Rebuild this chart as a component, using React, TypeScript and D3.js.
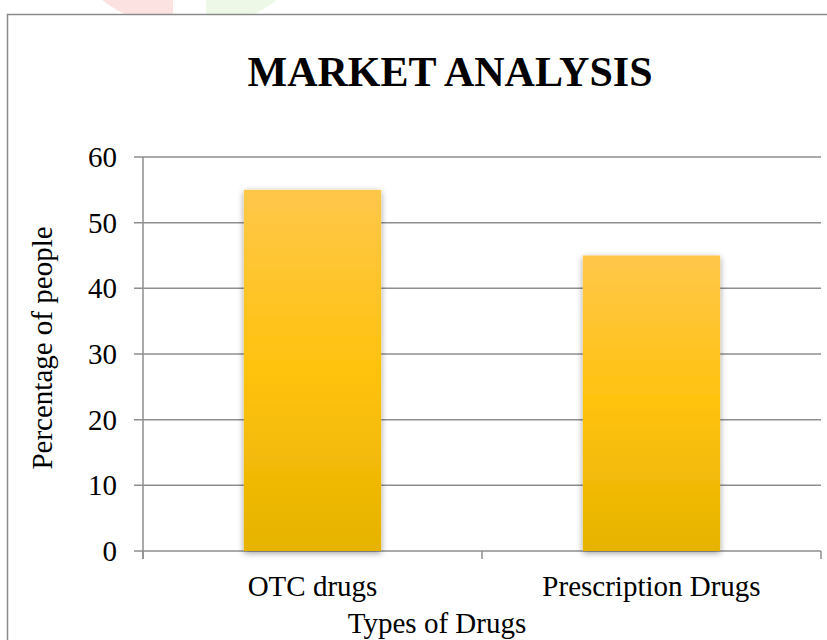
import React from 'react';
import * as d3 from 'd3';

const categories = ['OTC drugs', 'Prescription Drugs'];
const percentages = [55, 45];
const yTicks = [0, 10, 20, 30, 40, 50, 60];

const title = 'MARKET ANALYSIS';
const xTitle = 'Types of Drugs';
const yTitle = 'Percentage of people';

const W = 827;
const H = 640;
const margin = { top: 157, right: 6, bottom: 89, left: 143 };
const font = '"Liberation Serif", "Times New Roman", serif';
const gridColor = '#8e8e8e';

const App: React.FC = () => {
  const x0 = margin.left;
  const x1 = W - margin.right;
  const yBase = H - margin.bottom;

  // slots between category ticks
  const slot = d3.scaleBand<string>().domain(categories).range([x0, x1]).padding(0);
  // bars inside the slots
  const x = d3.scaleBand<string>()
    .domain(categories)
    .range([x0, x1])
    .paddingInner(0.595)
    .paddingOuter(0.2975);
  const y = d3.scaleLinear().domain([0, 60]).range([yBase, margin.top]);

  const boundaries = [...categories.map(c => slot(c) as number), x1];

  return (
    <div style={{ position: 'fixed', left: 0, top: 0 }}>
      <svg width={W} height={H} style={{ display: 'block', background: '#fff' }}>
        <defs>
          <linearGradient id="gold" x1="0" y1="0" x2="0" y2="1">
            <stop offset="0%" stopColor="#FFC74A" />
            <stop offset="50%" stopColor="#FFC20E" />
            <stop offset="100%" stopColor="#E6B300" />
          </linearGradient>
          <filter id="shadow" x="-20%" y="-10%" width="140%" height="120%">
            <feDropShadow dx="0" dy="2" stdDeviation="3" floodColor="#000" floodOpacity="0.4" />
          </filter>
          <clipPath id="topStrip">
            <rect x={0} y={0} width={W} height={14} />
          </clipPath>
        </defs>

        {/* faint watermark behind the frame */}
        <g clipPath="url(#topStrip)">
          <path d="M173,-200 A110,110 0 0 0 173,25 Z" fill="#fde2e2" />
          <path d="M206,-200 A110,110 0 0 1 206,25 Z" fill="#eef8e6" />
        </g>

        {/* chart frame */}
        <rect x={7.5} y={14.5} width={W + 40} height={H + 40} fill="none" stroke="#8a8a8a" strokeWidth={1.5} />

        <text
          x={450}
          y={86}
          textAnchor="middle"
          fontFamily={font}
          fontWeight="bold"
          fontSize={42}
          fill="#000"
        >
          {title}
        </text>

        {/* gridlines + y ticks */}
        {yTicks.map(t => (
          <g key={t}>
            <line x1={x0 - 9} x2={x1} y1={y(t)} y2={y(t)} stroke={gridColor} strokeWidth={1.5} />
            <text
              x={x0 - 26}
              y={y(t)}
              dy="0.34em"
              textAnchor="end"
              fontFamily={font}
              fontSize={29}
              fill="#000"
            >
              {t}
            </text>
          </g>
        ))}

        {/* y axis line */}
        <line x1={x0} x2={x0} y1={margin.top} y2={yBase + 8} stroke={gridColor} strokeWidth={1.5} />

        {/* category boundary ticks */}
        {boundaries.map((b, i) => (
          <line key={i} x1={b} x2={b} y1={yBase} y2={yBase + 8} stroke={gridColor} strokeWidth={1.5} />
        ))}

        {/* bars */}
        {categories.map((c, i) => (
          <rect
            key={c}
            x={x(c)}
            y={y(percentages[i])}
            width={x.bandwidth()}
            height={yBase - y(percentages[i])}
            fill="url(#gold)"
            filter="url(#shadow)"
          />
        ))}

        {/* category labels */}
        {categories.map(c => (
          <text
            key={c}
            x={(slot(c) as number) + slot.bandwidth() / 2}
            y={596}
            textAnchor="middle"
            fontFamily={font}
            fontSize={29}
            fill="#000"
          >
            {c}
          </text>
        ))}

        <text x={437} y={633} textAnchor="middle" fontFamily={font} fontSize={29} fill="#000">
          {xTitle}
        </text>

        <text
          transform="translate(52,348) rotate(-90)"
          textAnchor="middle"
          fontFamily={font}
          fontSize={29}
          fill="#000"
        >
          {yTitle}
        </text>
      </svg>
    </div>
  );
};

export default App;
